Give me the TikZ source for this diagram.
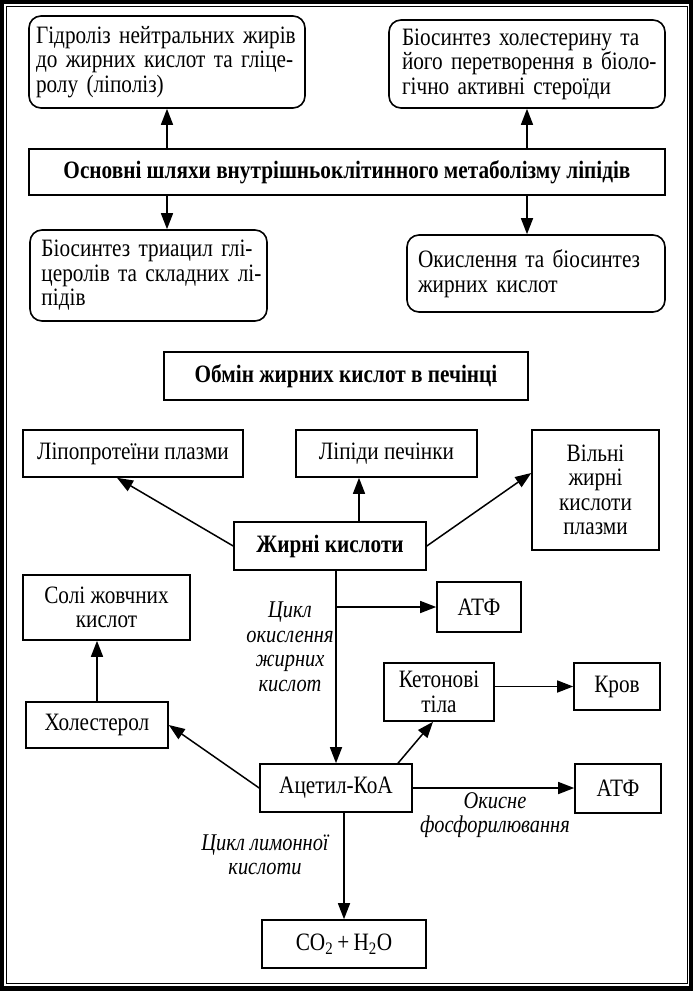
\documentclass[tikz,border=0pt]{standalone}
\usepackage{fontspec}
\setmainfont{Liberation Serif}[FakeStretch=0.85]
\usetikzlibrary{arrows.meta}
\newcommand{\jl}[1]{\makebox[\hsize][s]{#1}}

\begin{document}
\begin{tikzpicture}[x=1pt,y=-1pt,
  box/.style={draw,line width=1.6pt,inner sep=0pt,align=center,font=\fontsize{25}{24.5}\selectfont},
  rbox/.style={box,rounded corners=12pt},
  arr/.style={line width=1.5pt,-{Triangle[length=16pt,width=12pt]}},
  lbl/.style={align=center,font=\fontsize{24}{24.5}\selectfont\itshape}]
  % frame
  \fill (0,0) rectangle (693,991);
  \fill[white] (4,4) rectangle (689,986);
  \draw[line width=1pt] (6,6) rectangle (687,983);
  % main pathways
  \node[rbox,minimum width=276pt,minimum height=92pt,text width=262pt,align=left] (glyc) at (167,62)
    {\jl{Гідроліз нейтральних жирів}\\\jl{до жирних кислот та гліце-}\\ролу (ліполіз)};
  \node[rbox,minimum width=276pt,minimum height=88pt,text width=250pt,align=left] (chol) at (527,64)
    {\jl{Біосинтез холестерину та}\\\jl{його перетворення в біоло-}\\гічно активні стероїди};
  \node[box,minimum width=636pt,minimum height=46pt,font=\fontsize{25}{24}\selectfont\bfseries] (main) at (347,172)
    {Основні шляхи внутрішньоклітинного метаболізму ліпідів};
  \node[rbox,minimum width=237pt,minimum height=91pt,text width=214pt,align=left] (triac) at (148.5,275.5)
    {\jl{Біосинтез триацил глі-}\\\jl{церолів та складних лі-}\\підів};
  \node[rbox,minimum width=258pt,minimum height=77pt,text width=236pt,align=left] (oxid) at (536,273.5)
    {Окислення та біосинтез\\жирних кислот};
  \draw[arr] (main.north -| glyc.south) -- (glyc.south);
  \draw[arr] (main.north -| chol.south) -- (chol.south);
  \draw[arr] (main.south -| glyc.south) -- (triac.north -| glyc.south);
  \draw[arr] (main.south -| chol.south) -- (oxid.north -| chol.south);
  % liver
  \node[box,minimum width=364pt,minimum height=48pt,font=\fontsize{25}{24}\selectfont\bfseries] (liver) at (346,376)
    {Обмін жирних кислот в печінці};
  \node[box,minimum width=220pt,minimum height=47pt] (lipo) at (133,453.5) {Ліпопротеїни плазми};
  \node[box,minimum width=181pt,minimum height=47pt] (lipl) at (386.5,453.5) {Ліпіди печінки};
  \node[box,minimum width=127pt,minimum height=120pt] (free) at (595.5,490) {Вільні\\жирні\\кислоти\\плазми};
  \node[box,minimum width=192pt,minimum height=48pt,font=\fontsize{25}{24}\selectfont\bfseries] (fa) at (330,546)
    {Жирні кислоти};
  \node[box,minimum width=167pt,minimum height=65pt] (bile) at (106.5,607.5) {Солі жовчних\\кислот};
  \node[box,minimum width=84pt,minimum height=50pt] (atp1) at (479,607) {АТФ};
  \node[box,minimum width=110pt,minimum height=58pt] (keto) at (439,692) {Кетонові\\тіла};
  \node[box,minimum width=86pt,minimum height=47pt] (blood) at (617,686.5) {Кров};
  \node[box,minimum width=142pt,minimum height=46pt] (cholest) at (97,725) {Холестерол};
  \node[box,minimum width=152pt,minimum height=48pt] (acoa) at (336,788) {Ацетил-КоА};
  \node[box,minimum width=86pt,minimum height=49pt] (atp2) at (618,788.5) {АТФ};
  \node[box,minimum width=164pt,minimum height=48pt] (water) at (344,944)
    {CO\textsubscript{2}\,+\,H\textsubscript{2}O};
  \node[lbl] (cycox) at (290,647) {Цикл\\окислення\\жирних\\кислот};
  \node[lbl] (oxph) at (495,815) {Окисне\\фосфорилювання};
  \node[lbl] (cyclim) at (265,855) {Цикл лимонної\\кислоти};
  \draw[arr] (fa.west) -- ([xshift=-16pt]lipo.south);
  \draw[arr] ([xshift=29pt]fa.north) -- ([xshift=29pt]fa.north |- lipl.south);
  \draw[arr] (fa.east) -- ([yshift=17pt]free.west);
  \draw[arr] (fa.south -| acoa.north) -- (acoa.north);
  \draw[arr] (acoa.north |- atp1.west) -- (atp1.west);
  \draw[arr] (cholest.north) -- (cholest.north |- bile.south);
  \draw[arr] (acoa.west) -- (cholest.east);
  \draw[arr] ([xshift=62pt]acoa.north) -- ([xshift=-6pt]keto.south);
  \draw[arr] (blood.west -| keto.east) -- (blood.west);
  \draw[arr] (acoa.east) -- (acoa.east -| atp2.west);
  \draw[arr] (acoa.south -| water.north) -- (water.north);
\end{tikzpicture}
\end{document}
